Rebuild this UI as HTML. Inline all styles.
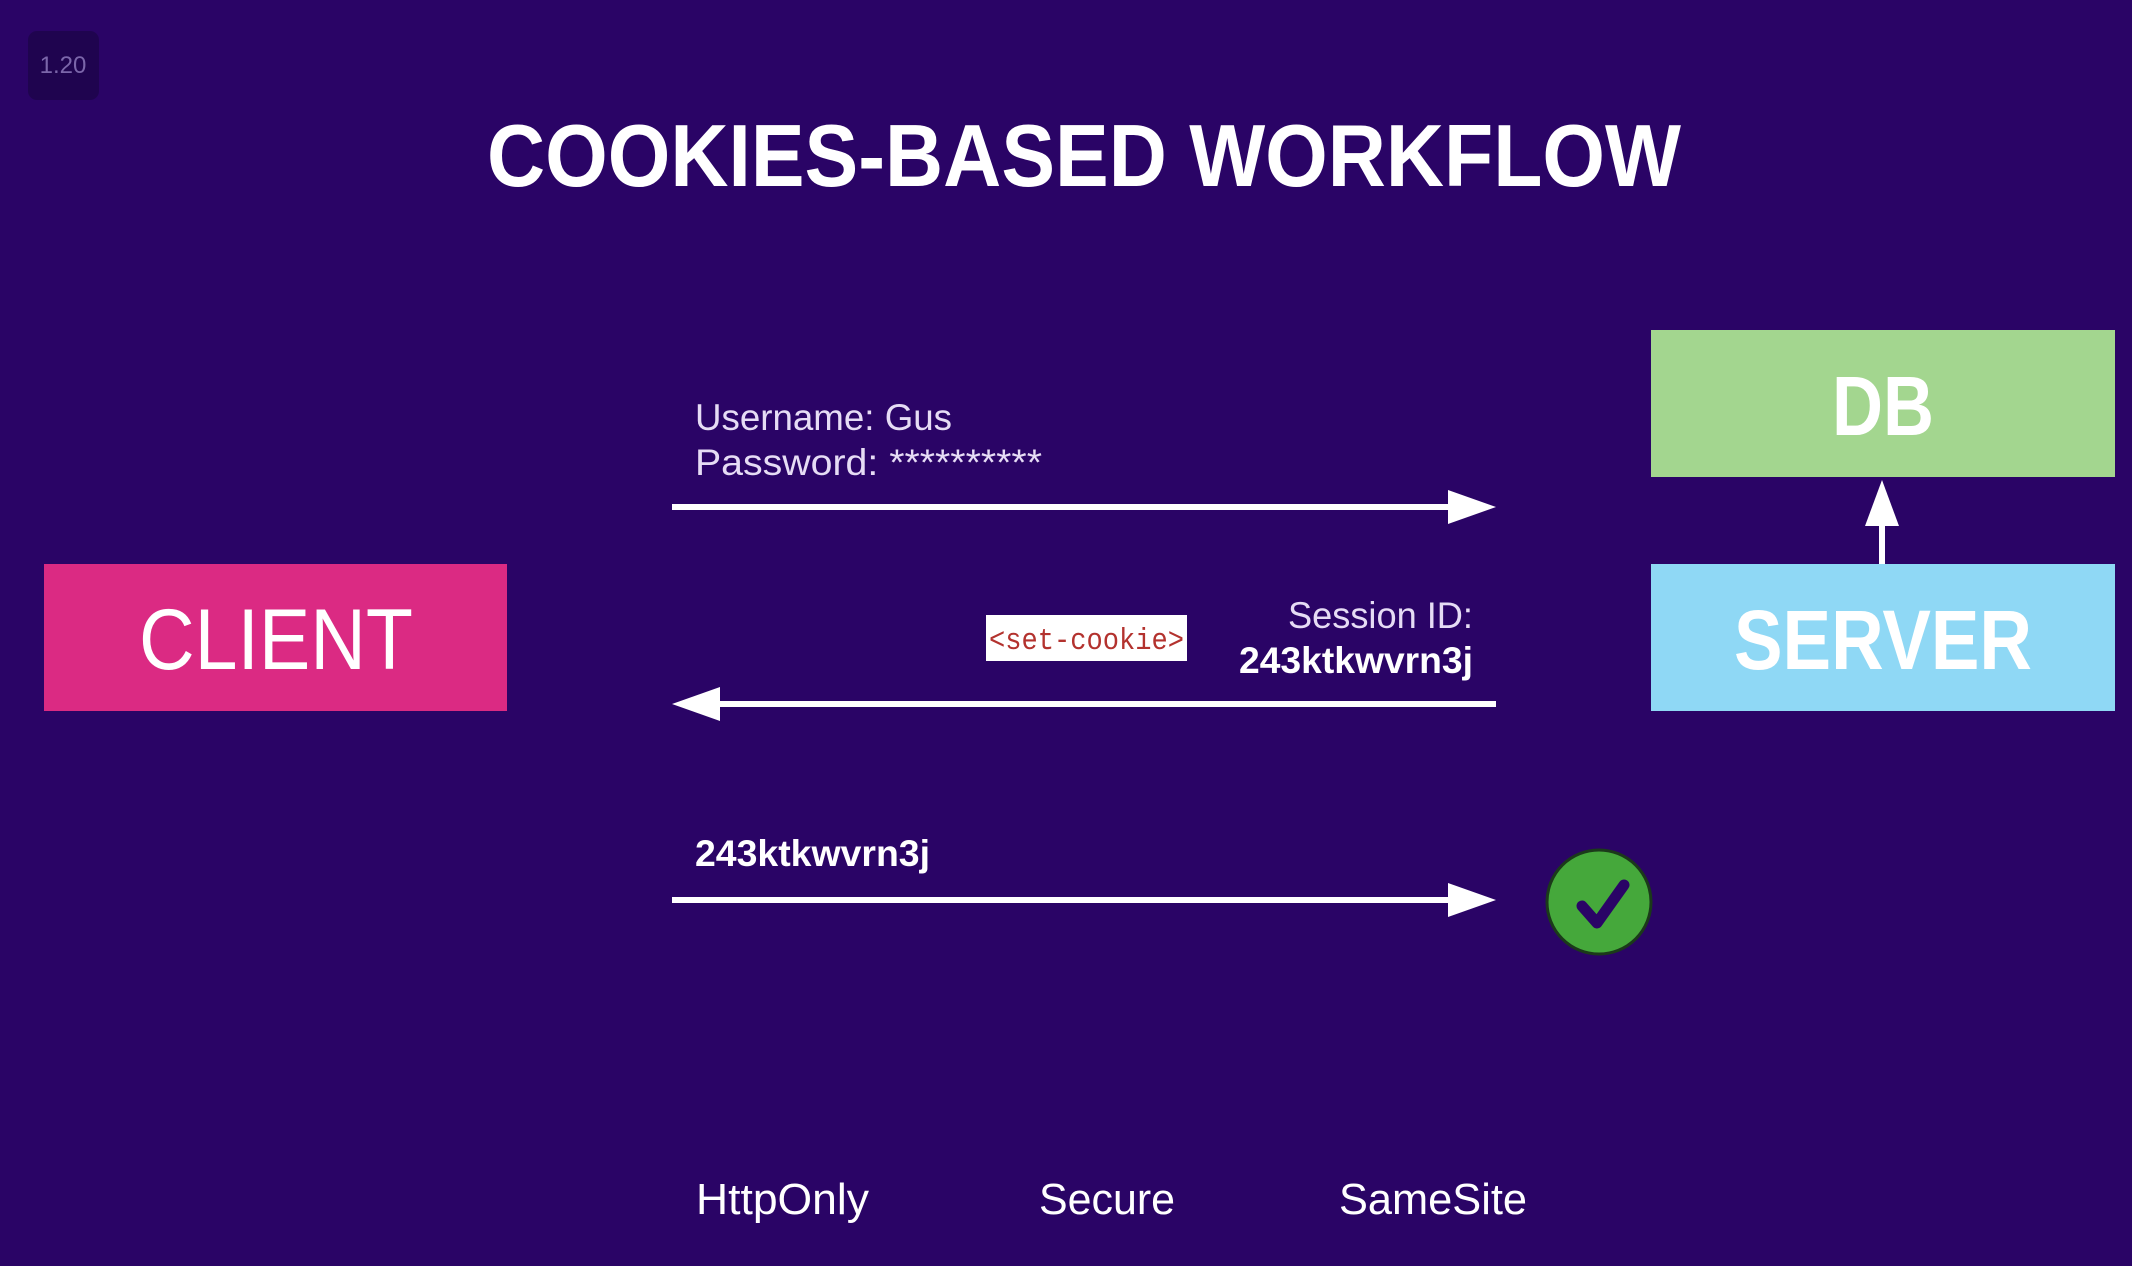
<!DOCTYPE html>
<html><head><meta charset="utf-8"><style>
html,body{margin:0;padding:0;background:#2a0466;}
svg{display:block;}
text{font-family:"Liberation Sans",Arial,sans-serif;}
</style></head><body>
<svg width="2132" height="1266" viewBox="0 0 2132 1266" xmlns="http://www.w3.org/2000/svg">
<rect width="2132" height="1266" fill="#2a0466"/>
<rect x="28" y="31" width="71" height="69" rx="9" fill="#1f044f"/>
<text x="63" y="73" font-size="24" fill="#7b66aa" text-anchor="middle">1.20</text>
<text x="487" y="186" font-size="88" font-weight="bold" fill="#fff" textLength="1194" lengthAdjust="spacingAndGlyphs">COOKIES-BASED WORKFLOW</text>

<rect x="44" y="564" width="463" height="147" fill="#db2a83"/>
<text x="139" y="669" font-size="86" fill="#fff" textLength="274" lengthAdjust="spacingAndGlyphs">CLIENT</text>
<rect x="1651" y="330" width="464" height="147" fill="#a3d68f"/>
<text x="1832" y="435" font-size="84" font-weight="bold" fill="#fff" textLength="102" lengthAdjust="spacingAndGlyphs">DB</text>
<rect x="1651" y="564" width="464" height="147" fill="#8fd8f5"/>
<text x="1734" y="669" font-size="84" font-weight="bold" fill="#fff" textLength="298" lengthAdjust="spacingAndGlyphs">SERVER</text>
<line x1="1882" y1="564" x2="1882" y2="520" stroke="#fff" stroke-width="6"/>
<polygon points="1882,480 1865,526 1899,526" fill="#fff"/>

<g fill="#fff" stroke="none">
<rect x="672" y="504" width="780" height="6"/>
<polygon points="1496,507 1448,490 1448,524"/>
<rect x="716" y="701" width="780" height="6"/>
<polygon points="672,704 720,687 720,721"/>
<rect x="672" y="897" width="780" height="6"/>
<polygon points="1496,900 1448,883 1448,917"/>
</g>

<text x="695" y="430" font-size="37" fill="#e6dcf5" textLength="257" lengthAdjust="spacingAndGlyphs">Username: Gus</text>
<text x="695" y="475" font-size="37" fill="#e6dcf5" textLength="347" lengthAdjust="spacingAndGlyphs">Password: **********</text>
<rect x="986" y="615" width="201" height="46" fill="#fff"/>
<text x="989" y="649" font-size="31" fill="#b3322e" textLength="195" lengthAdjust="spacingAndGlyphs" style="font-family:'Liberation Mono',monospace">&lt;set-cookie&gt;</text>
<text x="1288" y="628" font-size="37" fill="#e6dcf5" textLength="185" lengthAdjust="spacingAndGlyphs">Session ID:</text>
<text x="1239" y="673" font-size="37" font-weight="bold" fill="#fff" textLength="234" lengthAdjust="spacingAndGlyphs">243ktkwvrn3j</text>
<text x="695" y="866" font-size="37" font-weight="bold" fill="#fff" textLength="235" lengthAdjust="spacingAndGlyphs">243ktkwvrn3j</text>

<circle cx="1599" cy="902" r="52" fill="#45a83b" stroke="#1b3a1a" stroke-width="3"/>
<polyline points="1582,906 1597,923 1624,885" fill="none" stroke="#2a0466" stroke-width="11" stroke-linecap="round" stroke-linejoin="round"/>

<text x="696" y="1214" font-size="44" fill="#fff" textLength="173" lengthAdjust="spacingAndGlyphs">HttpOnly</text>
<text x="1039" y="1214" font-size="44" fill="#fff" textLength="136" lengthAdjust="spacingAndGlyphs">Secure</text>
<text x="1339" y="1214" font-size="44" fill="#fff" textLength="188" lengthAdjust="spacingAndGlyphs">SameSite</text>
</svg>
</body></html>
